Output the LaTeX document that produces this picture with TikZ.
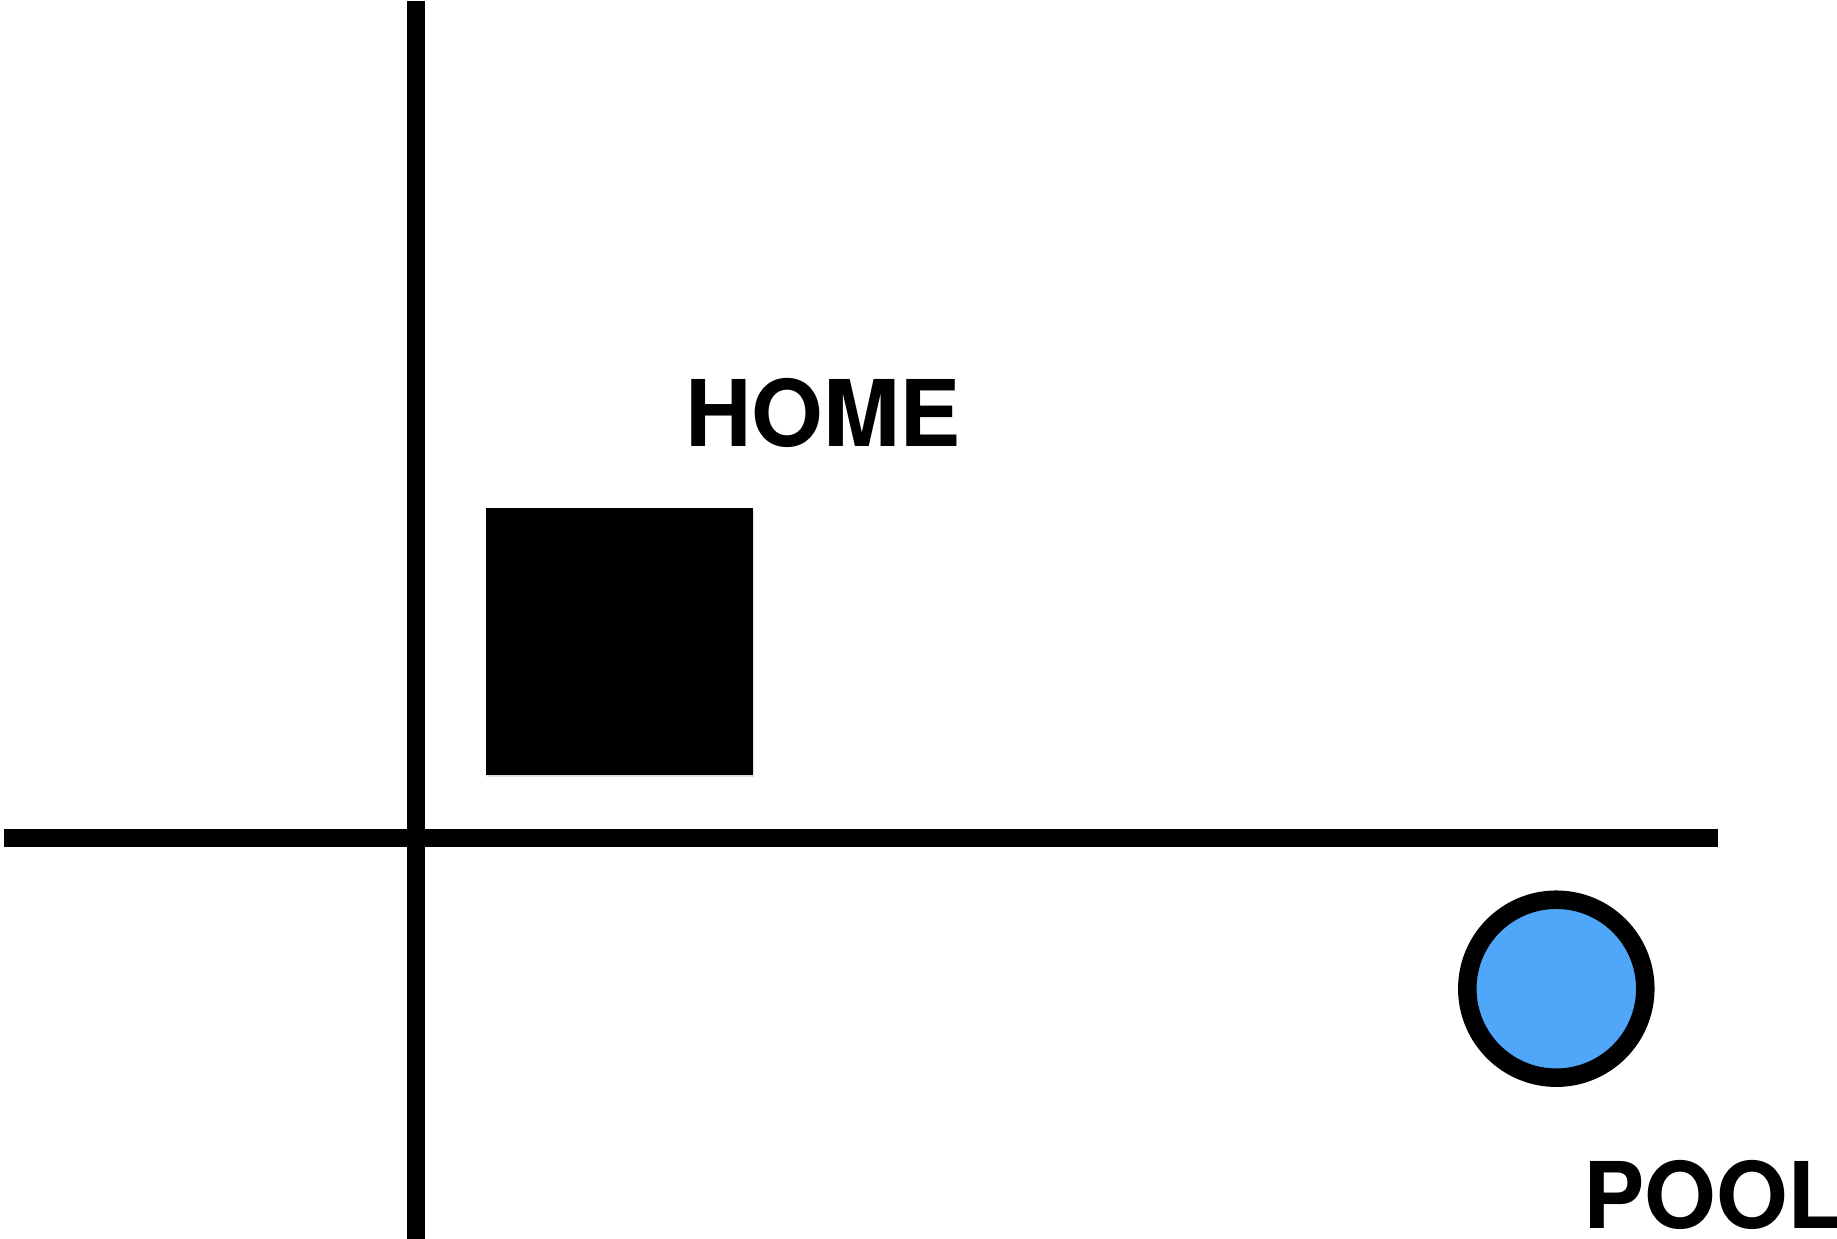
\documentclass[tikz,border=0pt]{standalone}
\usepackage{fontspec}
\newfontfamily\lblfont{TeX Gyre Heros}[BoldFont={* Bold}]
\usetikzlibrary{shadows}
\definecolor{poolblue}{RGB}{80,166,248}
\begin{document}
\begin{tikzpicture}[x=1pt,y=-1pt,
  road/.style={line width=18.5pt,black},
  label/.style={inner sep=0pt,anchor=base west,font=\lblfont\bfseries\fontsize{92}{100}\selectfont},
  house/.style={fill=black,draw=none,drop shadow={opacity=0.25,shadow xshift=1pt,shadow yshift=-2pt}},
  pool/.style={circle,fill=poolblue,draw=black,line width=18.5pt,minimum size=178pt,inner sep=0pt,drop shadow={opacity=0.25,shadow xshift=1pt,shadow yshift=-2pt}}]
\useasboundingbox (0,0) rectangle (1837,1239);
\coordinate (vtop) at (416,1);
\coordinate (vbot) at (416,1239);
\coordinate (hleft) at (3.5,838);
\coordinate (hright) at (1717.5,838);
\draw[road] (vtop) -- (vbot);
\draw[road] (hleft) -- (hright);
\path[house] (486,508) rectangle (753,775);
\node[pool] (pool) at (1556.3,988.7) {};
\node[label] (home) at (685,446) {HOME};
\node[label] (poollbl) at (1583,1228) {POOL};
\end{tikzpicture}
\end{document}
